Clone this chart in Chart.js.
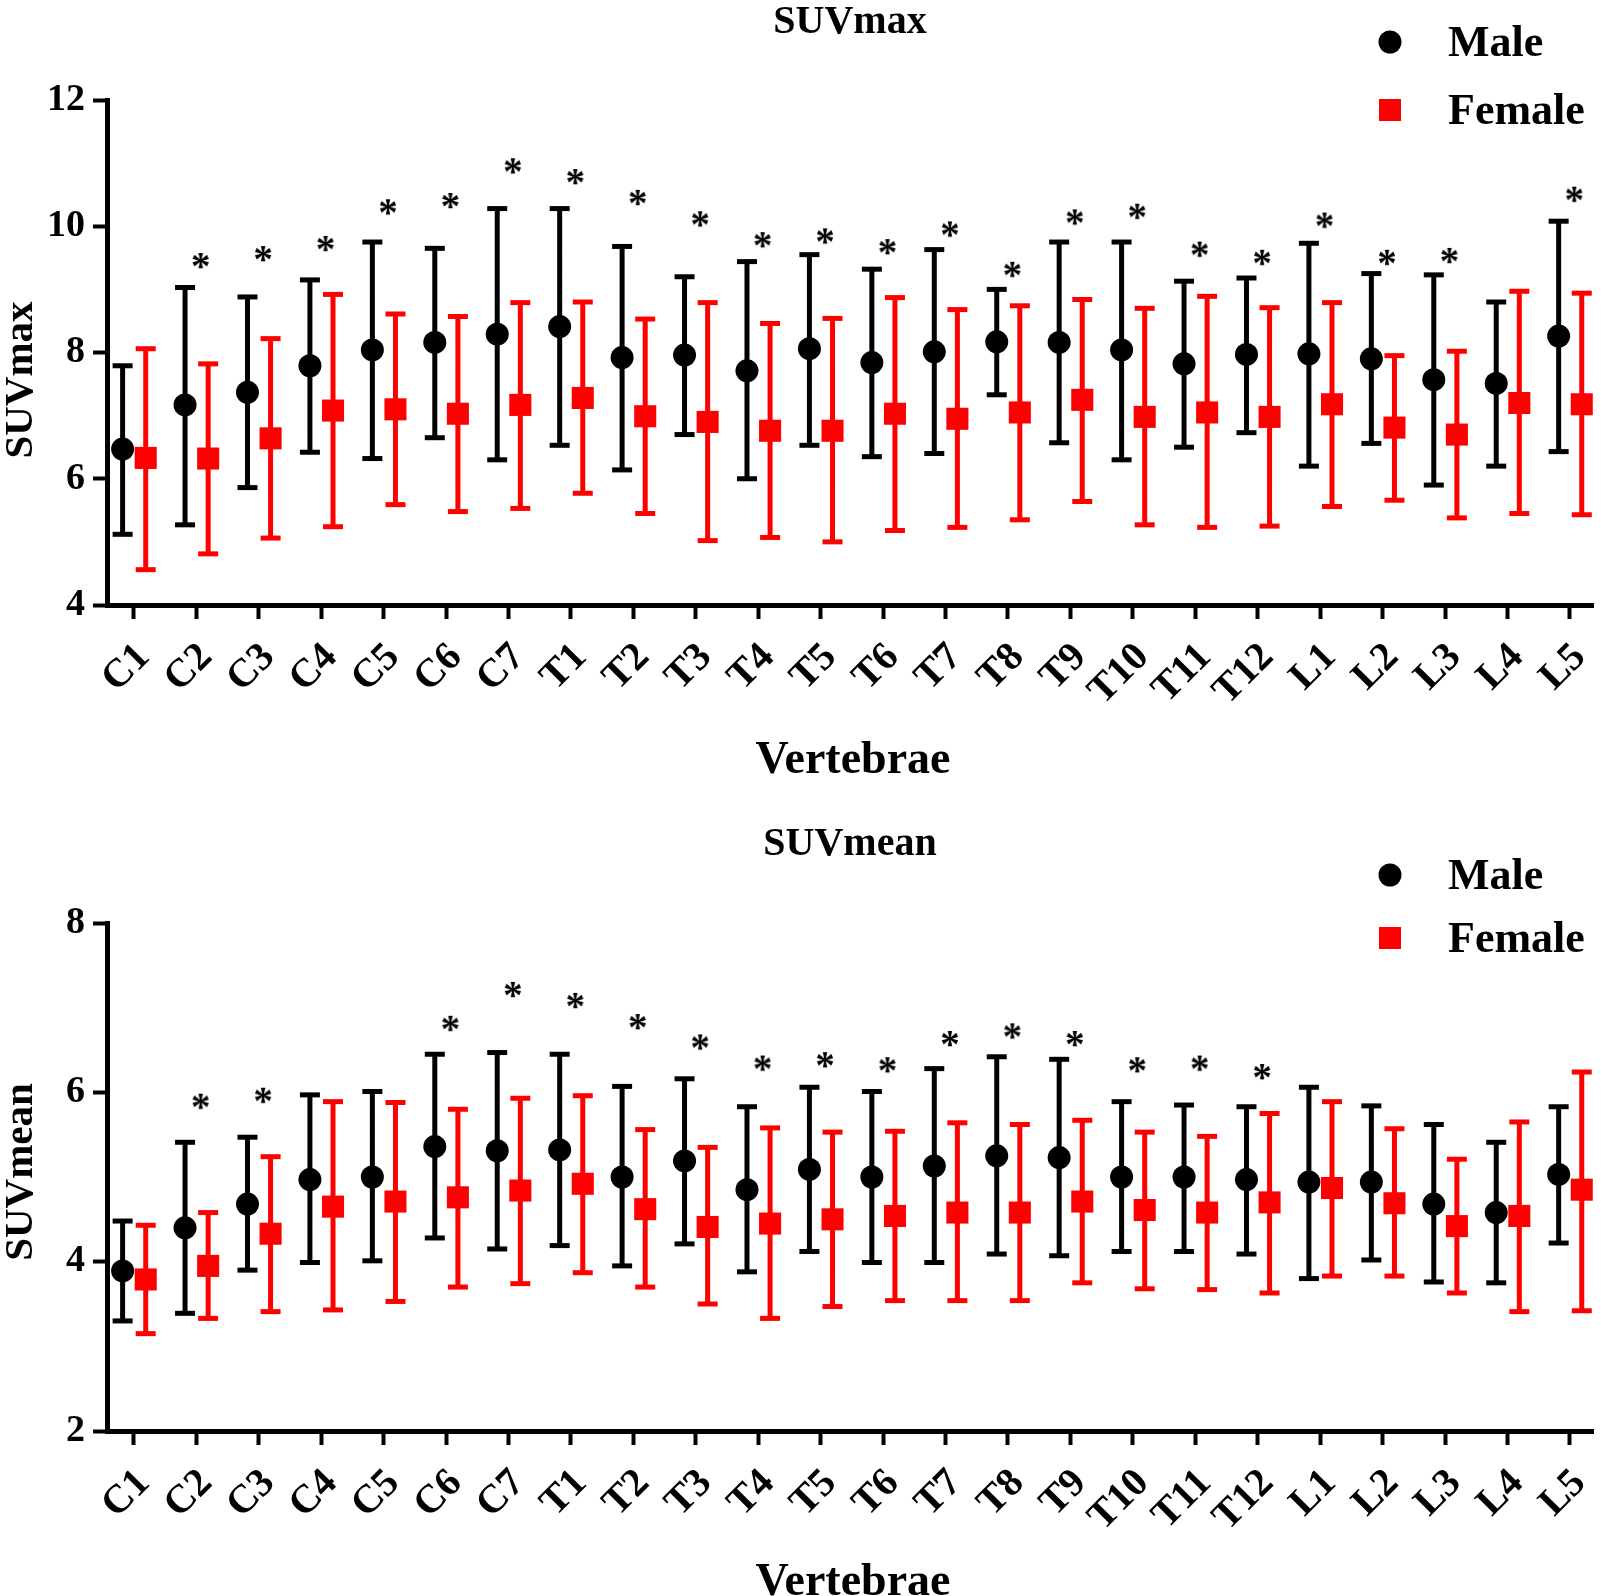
<!DOCTYPE html>
<html>
<head>
<meta charset="utf-8">
<title>SUVmax / SUVmean by vertebra</title>
<script src="https://cdn.jsdelivr.net/npm/chart.js@4.4.1/dist/chart.umd.min.js"></script>
<style>
  html, body { margin: 0; padding: 0; background: #fff; overflow: hidden; }
  canvas { display: block; }
</style>
</head>
<body>
<canvas id="max-chart" width="1601" height="800"></canvas>
<canvas id="mean-chart" width="1601" height="796"></canvas>
<script>
// Vertebral levels on the x axis
const vertebrae = ['C1','C2','C3','C4','C5','C6','C7','T1','T2','T3','T4','T5','T6',
  'T7','T8','T9','T10','T11','T12','L1','L2','L3','L4','L5'];

// SUVmax: mean and whisker ends, male / female
const maxMale      = [6.47, 7.17, 7.37, 7.79, 8.04, 8.16, 8.29, 8.41, 7.92, 7.96, 7.71, 8.06, 7.84, 8.01, 8.17, 8.16, 8.04, 7.82, 7.97, 7.98, 7.90, 7.57, 7.51, 8.26];
const maxMaleHigh  = [7.79, 9.03, 8.88, 9.15, 9.75, 9.65, 10.28, 10.28, 9.68, 9.20, 9.44, 9.55, 9.32, 9.63, 9.00, 9.75, 9.75, 9.13, 9.18, 9.73, 9.25, 9.23, 8.80, 10.08];
const maxMaleLow   = [5.12, 5.27, 5.86, 6.42, 6.32, 6.65, 6.30, 6.53, 6.14, 6.70, 6.00, 6.53, 6.35, 6.40, 7.33, 6.57, 6.30, 6.50, 6.73, 6.20, 6.56, 5.90, 6.20, 6.43];
const maxFemale     = [6.33, 6.32, 6.64, 7.08, 7.10, 7.03, 7.17, 7.28, 6.99, 6.90, 6.76, 6.76, 7.03, 6.95, 7.05, 7.25, 6.98, 7.05, 6.98, 7.18, 6.81, 6.70, 7.20, 7.18];
const maxFemaleHigh = [8.06, 7.82, 8.22, 8.92, 8.61, 8.57, 8.79, 8.80, 8.53, 8.79, 8.46, 8.54, 8.87, 8.68, 8.74, 8.84, 8.70, 8.89, 8.71, 8.79, 7.95, 8.02, 8.97, 8.94];
const maxFemaleLow  = [4.56, 4.81, 5.06, 5.24, 5.59, 5.48, 5.53, 5.77, 5.45, 5.02, 5.07, 5.00, 5.18, 5.23, 5.35, 5.64, 5.27, 5.23, 5.25, 5.56, 5.66, 5.38, 5.45, 5.43];
// height of the significance asterisk (null = not significant)
const maxStar = [null, 9.45, 9.56, 9.72, 10.30, 10.40, 10.95, 10.78, 10.45, 10.11, 9.78, 9.84, 9.67, 9.95, 9.31, 10.14, 10.23, 9.63, 9.50, 10.09, 9.50, 9.53, null, 10.50];
const maxTicks = [4, 6, 8, 10, 12];

// SUVmean
const meanMale      = [3.89, 4.40, 4.68, 4.97, 5.00, 5.36, 5.31, 5.32, 5.00, 5.19, 4.85, 5.09, 5.00, 5.13, 5.25, 5.23, 5.00, 5.00, 4.97, 4.94, 4.94, 4.68, 4.58, 5.03];
const meanMaleHigh  = [4.48, 5.41, 5.47, 5.97, 6.01, 6.45, 6.47, 6.45, 6.07, 6.16, 5.83, 6.06, 6.01, 6.28, 6.42, 6.39, 5.89, 5.85, 5.83, 6.06, 5.84, 5.62, 5.41, 5.83];
const meanMaleLow   = [3.30, 3.39, 3.90, 3.99, 4.01, 4.28, 4.15, 4.19, 3.95, 4.21, 3.88, 4.12, 3.99, 3.99, 4.09, 4.07, 4.12, 4.12, 4.09, 3.80, 4.02, 3.76, 3.75, 4.22];
const meanFemale     = [3.79, 3.95, 4.33, 4.65, 4.71, 4.76, 4.84, 4.92, 4.62, 4.41, 4.45, 4.50, 4.54, 4.58, 4.58, 4.71, 4.61, 4.58, 4.70, 4.87, 4.69, 4.42, 4.54, 4.85];
const meanFemaleHigh = [4.43, 4.58, 5.24, 5.89, 5.88, 5.80, 5.93, 5.96, 5.56, 5.35, 5.58, 5.53, 5.54, 5.64, 5.62, 5.67, 5.53, 5.48, 5.75, 5.89, 5.57, 5.21, 5.65, 6.24];
const meanFemaleLow  = [3.15, 3.33, 3.41, 3.43, 3.53, 3.70, 3.74, 3.87, 3.70, 3.50, 3.33, 3.47, 3.54, 3.54, 3.54, 3.75, 3.68, 3.67, 3.63, 3.83, 3.83, 3.63, 3.41, 3.42];
const meanStar = [null, 5.89, 5.96, null, null, 6.81, 7.21, 7.08, 6.83, 6.59, 6.34, 6.38, 6.32, 6.63, 6.72, 6.63, 6.32, 6.34, 6.24, null, null, null, null, null];
const meanTicks = [2, 4, 6, 8];

const FONT = '"Liberation Serif", "Times New Roman", serif';
const RED = '#ff0000';
const BLACK = '#000000';
const MALE_OFF = -0.18;
const FEMALE_OFF = 0.19;
const STAR_OFF = 0.07;

// asterisk drawn once into a small canvas, used as a point style
function makeAsterisk() {
  const c = document.createElement('canvas');
  c.width = 30; c.height = 30;
  const g = c.getContext('2d');
  g.font = `bold 39px ${FONT}`;
  g.textAlign = 'center';
  g.textBaseline = 'alphabetic';
  const m = g.measureText('*');
  const base = 15 + (m.actualBoundingBoxAscent - m.actualBoundingBoxDescent) / 2;
  g.fillStyle = BLACK;
  g.fillText('*', 15, base);
  return c;
}
const asterisk = makeAsterisk();

// whiskers as one broken line per series: low -> high, then a gap
function whiskers(lo, hi, off) {
  const pts = [];
  lo.forEach((v, i) => {
    pts.push({ x: i + off, y: v }, { x: i + off, y: hi[i] }, { x: i + off, y: null });
  });
  return pts;
}
function points(vals, off) {
  return vals.map((v, i) => ({ x: i + off, y: v })).filter(p => p.y !== null);
}
function caps(lo, hi, off) {
  return points(lo, off).concat(points(hi, off));
}

// titles, axis titles and legend
const decorPlugin = {
  id: 'decor',
  afterDraw(chart, args, o) {
    const ctx = chart.ctx;
    ctx.save();
    ctx.fillStyle = BLACK;
    ctx.textBaseline = 'alphabetic';
    // chart title
    ctx.textAlign = 'center';
    ctx.font = `bold 40px ${FONT}`;
    ctx.fillText(o.title, 850, o.titleBase);
    // x axis title
    ctx.font = `bold 46px ${FONT}`;
    ctx.fillText('Vertebrae', 853, o.xTitleBase);
    // y axis title
    ctx.save();
    ctx.translate(o.yTitleBase, o.yTitleMid);
    ctx.rotate(-Math.PI / 2);
    ctx.font = `bold 41px ${FONT}`;
    ctx.fillText(o.title, 0, 0);
    ctx.restore();
    // legend
    ctx.textAlign = 'left';
    ctx.font = `bold 44px ${FONT}`;
    ctx.beginPath();
    ctx.arc(1390, o.maleY, 11.5, 0, Math.PI * 2);
    ctx.fill();
    ctx.fillText('Male', 1448, o.maleY + 14);
    ctx.fillStyle = RED;
    ctx.fillRect(1379, o.femaleY - 11, 22, 22);
    ctx.fillStyle = BLACK;
    ctx.fillText('Female', 1448, o.femaleY + 14);
    ctx.restore();
  }
};

function buildChart(id, s) {
  const ctx = document.getElementById(id).getContext('2d');
  return new Chart(ctx, {
    type: 'scatter',
    data: {
      datasets: [
        { data: points(s.star, STAR_OFF), pointStyle: asterisk, pointRadius: 15 },
        { data: points(s.male, MALE_OFF), pointStyle: 'circle', pointRadius: 11.5,
          backgroundColor: BLACK, borderWidth: 0 },
        { data: points(s.female, FEMALE_OFF), pointStyle: 'rect', pointRadius: 15.6,
          backgroundColor: RED, borderWidth: 0 },
        { data: caps(s.maleLow, s.maleHigh, MALE_OFF), pointStyle: 'line', pointRadius: 10,
          borderColor: BLACK, pointBorderWidth: 5 },
        { data: caps(s.femaleLow, s.femaleHigh, FEMALE_OFF), pointStyle: 'line', pointRadius: 10,
          borderColor: RED, pointBorderWidth: 5 },
        { data: whiskers(s.maleLow, s.maleHigh, MALE_OFF), showLine: true, spanGaps: false,
          pointRadius: 0, borderColor: BLACK, borderWidth: 5, borderCapStyle: 'butt' },
        { data: whiskers(s.femaleLow, s.femaleHigh, FEMALE_OFF), showLine: true, spanGaps: false,
          pointRadius: 0, borderColor: RED, borderWidth: 5, borderCapStyle: 'butt' }
      ]
    },
    options: {
      responsive: false,
      animation: false,
      devicePixelRatio: 1,
      events: [],
      layout: { autoPadding: false, padding: { left: 0, right: 8, top: s.top, bottom: 0 } },
      plugins: {
        legend: { display: false },
        tooltip: { enabled: false },
        decor: s.decor
      },
      scales: {
        x: {
          type: 'linear',
          min: -0.43,
          max: 23.37,
          afterBuildTicks: sc => { sc.ticks = vertebrae.map((_, i) => ({ value: i })); },
          afterFit: sc => {
            sc.height = s.xHeight;
            // keep the plot width fixed, labels may hang outside
            sc.paddingLeft = 0;
            sc.paddingRight = 0;
          },
          ticks: {
            autoSkip: false, minRotation: 45, maxRotation: 45, padding: 15, labelOffset: 10,
            color: BLACK, font: { family: FONT, size: 40, weight: 'bold' },
            callback: v => vertebrae[v]
          },
          grid: { drawOnChartArea: false, tickLength: 14, tickWidth: 4, tickColor: BLACK },
          border: { display: true, color: BLACK, width: 5 }
        },
        y: {
          min: s.ticks[0],
          max: s.ticks[s.ticks.length - 1],
          afterBuildTicks: sc => { sc.ticks = s.ticks.map(v => ({ value: v })); },
          afterFit: sc => { sc.width = 107; sc.paddingTop = 0; sc.paddingBottom = 0; },
          ticks: {
            padding: 8, color: BLACK,
            font: { family: FONT, size: 38, weight: 'bold' }
          },
          grid: { drawOnChartArea: false, tickLength: 14, tickWidth: 4, tickColor: BLACK },
          border: { display: true, color: BLACK, width: 5 }
        }
      }
    },
    plugins: [decorPlugin]
  });
}

buildChart('max-chart', {
  male: maxMale, maleHigh: maxMaleHigh, maleLow: maxMaleLow,
  female: maxFemale, femaleHigh: maxFemaleHigh, femaleLow: maxFemaleLow,
  star: maxStar, ticks: maxTicks,
  top: 100, xHeight: 195,
  decor: { title: 'SUVmax', titleBase: 33, xTitleBase: 773, yTitleBase: 32, yTitleMid: 380,
    maleY: 42, femaleY: 110 }
});

buildChart('mean-chart', {
  male: meanMale, maleHigh: meanMaleHigh, maleLow: meanMaleLow,
  female: meanFemale, femaleHigh: meanFemaleHigh, femaleLow: meanFemaleLow,
  star: meanStar, ticks: meanTicks,
  top: 123, xHeight: 165,
  decor: { title: 'SUVmean', titleBase: 55, xTitleBase: 795, yTitleBase: 32, yTitleMid: 372,
    maleY: 75, femaleY: 138 }
});
</script>
</body>
</html>
